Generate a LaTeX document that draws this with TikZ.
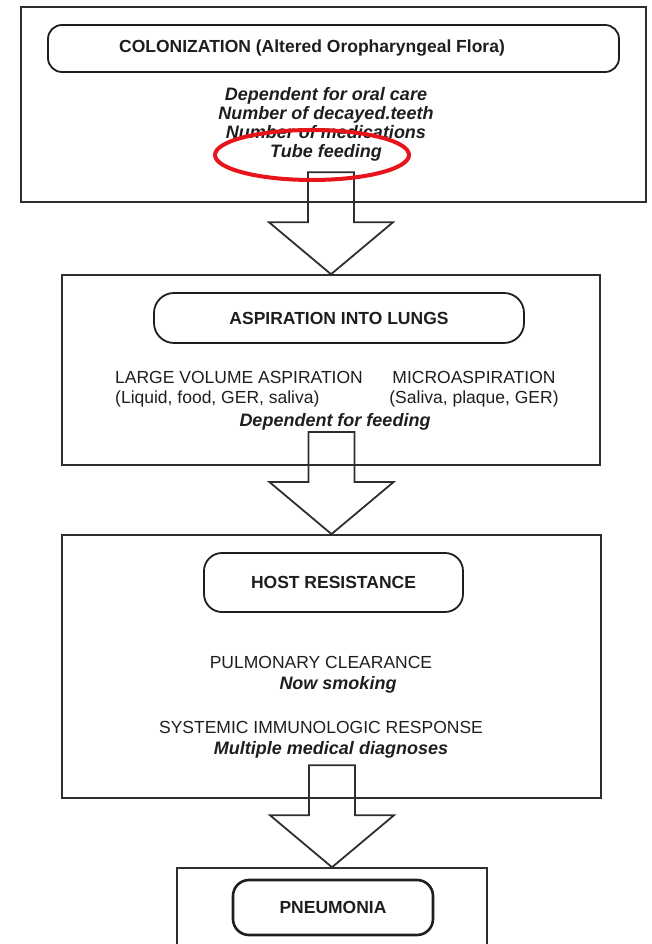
\documentclass[tikz,border=0pt]{standalone}
\usepackage{fontspec}
\setmainfont{Liberation Sans}
\usepackage{tikz}
\usetikzlibrary{calc}
\definecolor{ink}{HTML}{1E1E1E}
\definecolor{frame}{HTML}{2E2E2E}
\definecolor{marker}{HTML}{E8141B}

\begin{document}
\begin{tikzpicture}[x=1pt, y=1pt,
    stage/.style={draw=frame, line width=1.5pt, inner sep=0pt},
    title/.style={draw=ink, line width=1.8pt, rounded corners=16pt, inner sep=0pt,
      text=ink, font=\bfseries\fontsize{17.5}{20}\selectfont},
    note/.style={text=ink, inner sep=0pt, font=\fontsize{17.5}{20}\selectfont},
    risk/.style={text=ink, inner sep=0pt, font=\bfseries\itshape\fontsize{18}{19}\selectfont},
    blockarrow/.style={draw=frame, line width=1.8pt, line join=miter},
    redmark/.style={draw=marker, line width=4pt}]
    \useasboundingbox (0,0) rectangle (652,944);
    % outer frames
    \node[stage, minimum width=625, minimum height=195] (box1) at (333.5,839.5) {};
    \node[stage, minimum width=538, minimum height=190] (box2) at (331,574) {};
    \node[stage, minimum width=539, minimum height=263, line width=1.8pt] (box3) at (331.5,277.5) {};
    \node[stage, minimum width=310, minimum height=120] (box4) at (332,16) {};
    % colonization
    \node[title, minimum width=571, minimum height=47, rounded corners=14pt] (col) at (333.5,895.5) {};
    \node[note, font=\bfseries\fontsize{17.5}{20}\selectfont] (coltext) at (312,896) {COLONIZATION (Altered Oropharyngeal Flora)};
    \node[risk, align=center] (colrisk) at (326,820) {Dependent for oral care\\Number of decayed.teeth\\Number of medications\\Tube feeding};
    % aspiration
    \node[title, minimum width=370, minimum height=50, rounded corners=20pt] (asp) at (339,626) {ASPIRATION INTO LUNGS};
    \node[note, align=left, anchor=west] (large) at (115,555) {LARGE VOLUME ASPIRATION\\(Liquid, food, GER, saliva)};
    \node[note, align=center] (micro) at (474,555) {MICROASPIRATION\\(Saliva, plaque, GER)};
    \node[risk] (feed) at (335,522) {Dependent for feeding};
    % host resistance
    \node[title, minimum width=259, minimum height=59, rounded corners=18pt] (host) at (333.5,361.5) {HOST RESISTANCE};
    \node[note] (pulm) at (321,282) {PULMONARY CLEARANCE};
    \node[risk] (smok) at (338,259) {Now smoking};
    \node[note] (sysim) at (321,217) {SYSTEMIC IMMUNOLOGIC RESPONSE};
    \node[risk] (diag) at (331,194) {Multiple medical diagnoses};
    % pneumonia
    \node[title, minimum width=200, minimum height=55, line width=2.6pt] (pneu) at (333,36.5) {PNEUMONIA};
    % block arrows
    \foreach \dst in {box2, box3, box4}
      \draw[blockarrow] (\dst.north) -- ++(-62,52) -- ++(39,0) -- ++(0,50) -- ++(46,0)
        -- ++(0,-50) -- ++(39,0) -- cycle;
    \draw[redmark] (312,789) ellipse [x radius=97, y radius=25];
\end{tikzpicture}
\end{document}
